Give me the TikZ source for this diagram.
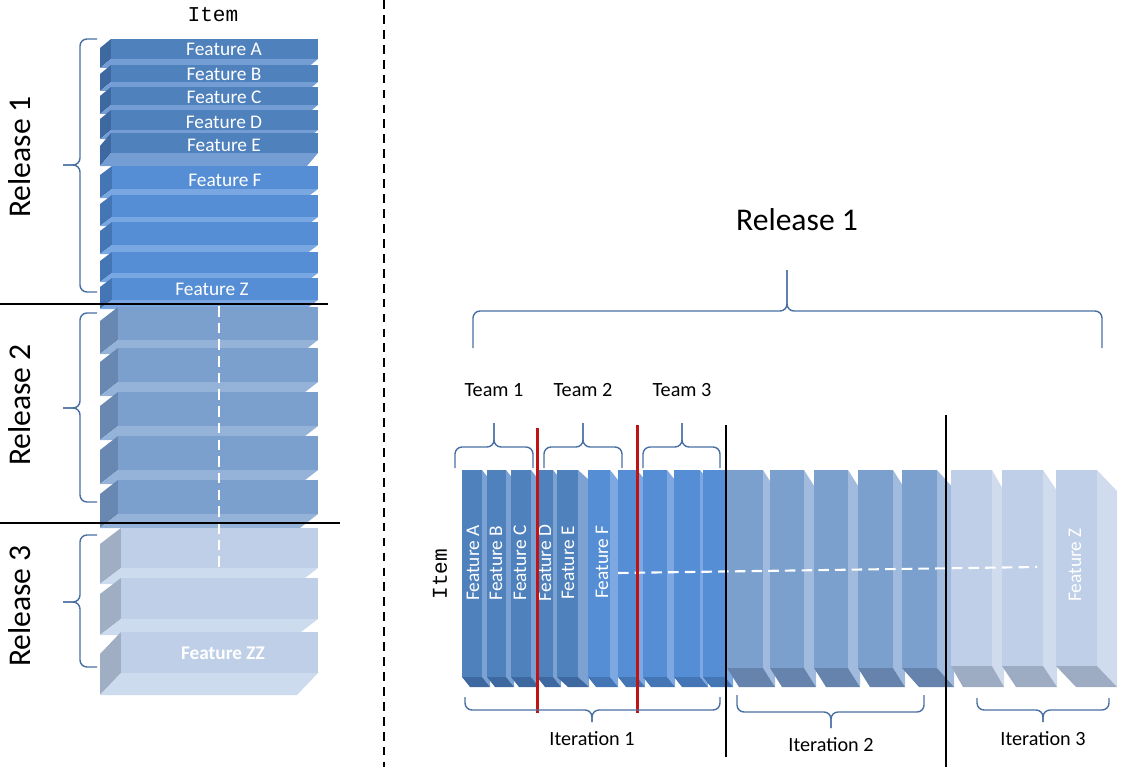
\documentclass[tikz,border=0pt]{standalone}
\usepackage{fontspec}
\setmainfont{Carlito}
\newfontfamily\itemfont{Liberation Mono}
\definecolor{rowA}{RGB}{79,129,189}
\definecolor{rowAbot}{RGB}{116,157,212}
\definecolor{rowAside}{RGB}{62,104,160}
\definecolor{rowB}{RGB}{85,142,213}
\definecolor{rowBbot}{RGB}{120,167,226}
\definecolor{rowBside}{RGB}{68,117,180}
\definecolor{rowC}{RGB}{123,160,205}
\definecolor{rowCbot}{RGB}{149,179,217}
\definecolor{rowCside}{RGB}{104,136,178}
\definecolor{rowD}{RGB}{190,207,231}
\definecolor{rowDbot}{RGB}{205,219,238}
\definecolor{rowDside}{RGB}{160,174,195}
\definecolor{colAside}{RGB}{124,162,211}
\definecolor{colBside}{RGB}{125,168,226}
\definecolor{colCside}{RGB}{160,187,222}
\definecolor{colDside}{RGB}{208,220,238}
\definecolor{colCbot}{RGB}{101,131,172}
\definecolor{colDbot}{RGB}{157,172,194}
\definecolor{bracecol}{RGB}{74,112,163}
\definecolor{redline}{RGB}{192,20,20}
% horizontal bar of the left stack: front x, top, bottom, depth x, depth y, colours
\newcommand{\featrow}[8]{%
  \fill[#8] (#1,#2) -- (#1,#3) -- ({#1-#4},{#3+#5}) -- ({#1-#4},{#2+#5}) -- cycle;
  \fill[#7] (#1,#3) -- (318,#3) -- ({318-#4},{#3+#5}) -- ({#1-#4},{#3+#5}) -- cycle;
  \fill[#6] (#1,#2) rectangle (318,#3);
}
% upright bar of the timeline: left x, right x, bottom, depth x, depth y, colours
\newcommand{\featcol}[8]{%
  \fill[#7] (#2,470) -- ({#2+#4},{470+#5}) -- ({#2+#4},{#3+#5}) -- (#2,#3) -- cycle;
  \fill[#8] (#1,#3) -- (#2,#3) -- ({#2+#4},{#3+#5}) -- ({#1+#4},{#3+#5}) -- cycle;
  \fill[#6] (#1,470) rectangle (#2,#3);
}
\begin{document}
\begin{tikzpicture}[x=0.02cm, y=-0.02cm,
  bracel/.style={draw=bracecol, line width=0.8pt, rounded corners=4pt},
  rellabel/.style={font=\fontsize{18}{22}\selectfont},
  teamlabel/.style={font=\fontsize{11.5}{14}\selectfont},
  featlabel/.style={text=white, font=\fontsize{11}{13}\selectfont, inner sep=0pt},
  itemlabel/.style={font=\itemfont\fontsize{12}{14}\selectfont},
  sepline/.style={black, line width=0.8pt},
  teamline/.style={draw=redline, line width=1.7pt},
  dashwhite/.style={white, line width=1.2pt, dash pattern=on 6pt off 3.5pt}]
\useasboundingbox (0,0) rectangle (1142,767);

% left stack, release 1 to 3
\foreach \ya/\yb/\dy in {39/59/9, 65/82/9, 87/105/9, 110/130/9, 133/153/13}
  \featrow{111}{\ya}{\yb}{11}{\dy}{rowA}{rowAbot}{rowAside};
\foreach \ya/\yb in {166/189, 195/217, 222/245, 252/273, 278/300}
  \featrow{112}{\ya}{\yb}{12}{9}{rowB}{rowBbot}{rowBside};
\foreach \ya/\yb in {307/340, 348/382, 392/426, 436/470, 480/514}
  \featrow{118}{\ya}{\yb}{18}{14}{rowC}{rowCbot}{rowCside};
\foreach \ya/\yb/\dy in {528/568/16, 578/619/16, 632/673/22}
  \featrow{121}{\ya}{\yb}{21}{\dy}{rowD}{rowDbot}{rowDside};

\node (itemtop) [itemlabel] at (213,15) {Item};
\node (fa) [featlabel] at (224,49) {Feature A};
\node (fb) [featlabel] at (224,74) {Feature B};
\node (fc) [featlabel] at (224,97) {Feature C};
\node (fd) [featlabel] at (224,122) {Feature D};
\node (fe) [featlabel] at (224,145) {Feature E};
\node (ff) [featlabel] at (225,180) {Feature F};
\node (fz) [featlabel] at (212,289) {Feature Z};
\node (fzz) [featlabel, font=\fontsize{11}{13}\selectfont\bfseries] at (223,653) {Feature ZZ};

\draw[dashwhite] (219,306) -- (219,567);
\draw[sepline] (0,304) -- (328,304);
\draw[sepline] (0,523) -- (340,523);

\foreach \ya/\ym/\yb in {39/165/292, 313/408/502, 535/602/667}{
  \draw[bracel] (97,\ya) -- (80,\ya) -- (80,\ym) -- (63,\ym);
  \draw[bracel] (97,\yb) -- (80,\yb) -- (80,\ym) -- (63,\ym);
}
\node (lrel1) [rellabel, rotate=90] at (20,157) {Release 1};
\node (lrel2) [rellabel, rotate=90] at (20,405) {Release 2};
\node (lrel3) [rellabel, rotate=90] at (20,606) {Release 3};

% divider
\draw[black, line width=1pt, dash pattern=on 5pt off 3.5pt] (384,0) -- (384,767);

% timeline of release 1
\foreach \xa/\xb/\dx in {462/482/8, 487/506/8, 511/531/8, 537/553/8, 557/578/11}
  \featcol{\xa}{\xb}{677}{\dx}{10}{rowA}{colAside}{rowAside};
\foreach \xa/\xb/\dx in {588/610/8, 618/637/8, 643/667/8, 674/700/8, 703/725/8}
  \featcol{\xa}{\xb}{677}{\dx}{10}{rowB}{colBside}{rowBside};
\foreach \xa/\xb/\dx in {727/763/12, 770/804/12, 814/848/12, 858/893/12, 902/937/17}
  \featcol{\xa}{\xb}{668}{\dx}{19}{rowC}{colCside}{colCbot};
\foreach \xa/\xb/\dx in {951/992/12, 1002/1043/14, 1056/1097/20}
  \featcol{\xa}{\xb}{666}{\dx}{21}{rowD}{colDside}{colDbot};

\node (ta) [featlabel, rotate=90] at (473,563) {Feature A};
\node (tb) [featlabel, rotate=90] at (496,563) {Feature B};
\node (tc) [featlabel, rotate=90] at (520,563) {Feature C};
\node (td) [featlabel, rotate=90] at (545,563) {Feature D};
\node (te) [featlabel, rotate=90] at (568,563) {Feature E};
\node (tf) [featlabel, rotate=90] at (602,562) {Feature F};
\node (tz) [featlabel, rotate=90] at (1075,565) {Feature Z};
\node (itemside) [itemlabel, rotate=90] at (440,574) {Item};

\draw[dashwhite] (618,573) -- (1037,567);

\draw[sepline] (726,425) -- (726,757);
\draw[sepline] (946,415) -- (946,767);
\draw[teamline] (537,428) -- (537,713);
\draw[teamline] (637,425) -- (637,713);

% braces
\draw[bracel] (473,348) -- (473,311) -- (787,311) -- (787,270);
\draw[bracel] (1102,348) -- (1102,311) -- (787,311) -- (787,270);
\node (rrel) [rellabel] at (797,220) {Release 1};

\foreach \xa/\xm/\xb/\n in {455/494/533/1, 544/583/622/2, 643/682/720/3}{
  \draw[bracel] (\xa,468) -- (\xa,447) -- (\xm,447) -- (\xm,423);
  \draw[bracel] (\xb,468) -- (\xb,447) -- (\xm,447) -- (\xm,423);
  \node (team\n) [teamlabel] at (\xm,390) {Team \n};
}
\foreach \xa/\xm/\xb/\ya/\yh/\yt/\n in {465/592/720/697/710/722/1, 737/831/924/695/712/728/2, 977/1043/1109/698/710/722/3}{
  \draw[bracel] (\xa,\ya) -- (\xa,\yh) -- (\xm,\yh) -- (\xm,\yt);
  \draw[bracel] (\xb,\ya) -- (\xb,\yh) -- (\xm,\yh) -- (\xm,\yt);
  \node (iter\n) [teamlabel] at (\xm,{\yt+17}) {Iteration \n};
}
\end{tikzpicture}
\end{document}
